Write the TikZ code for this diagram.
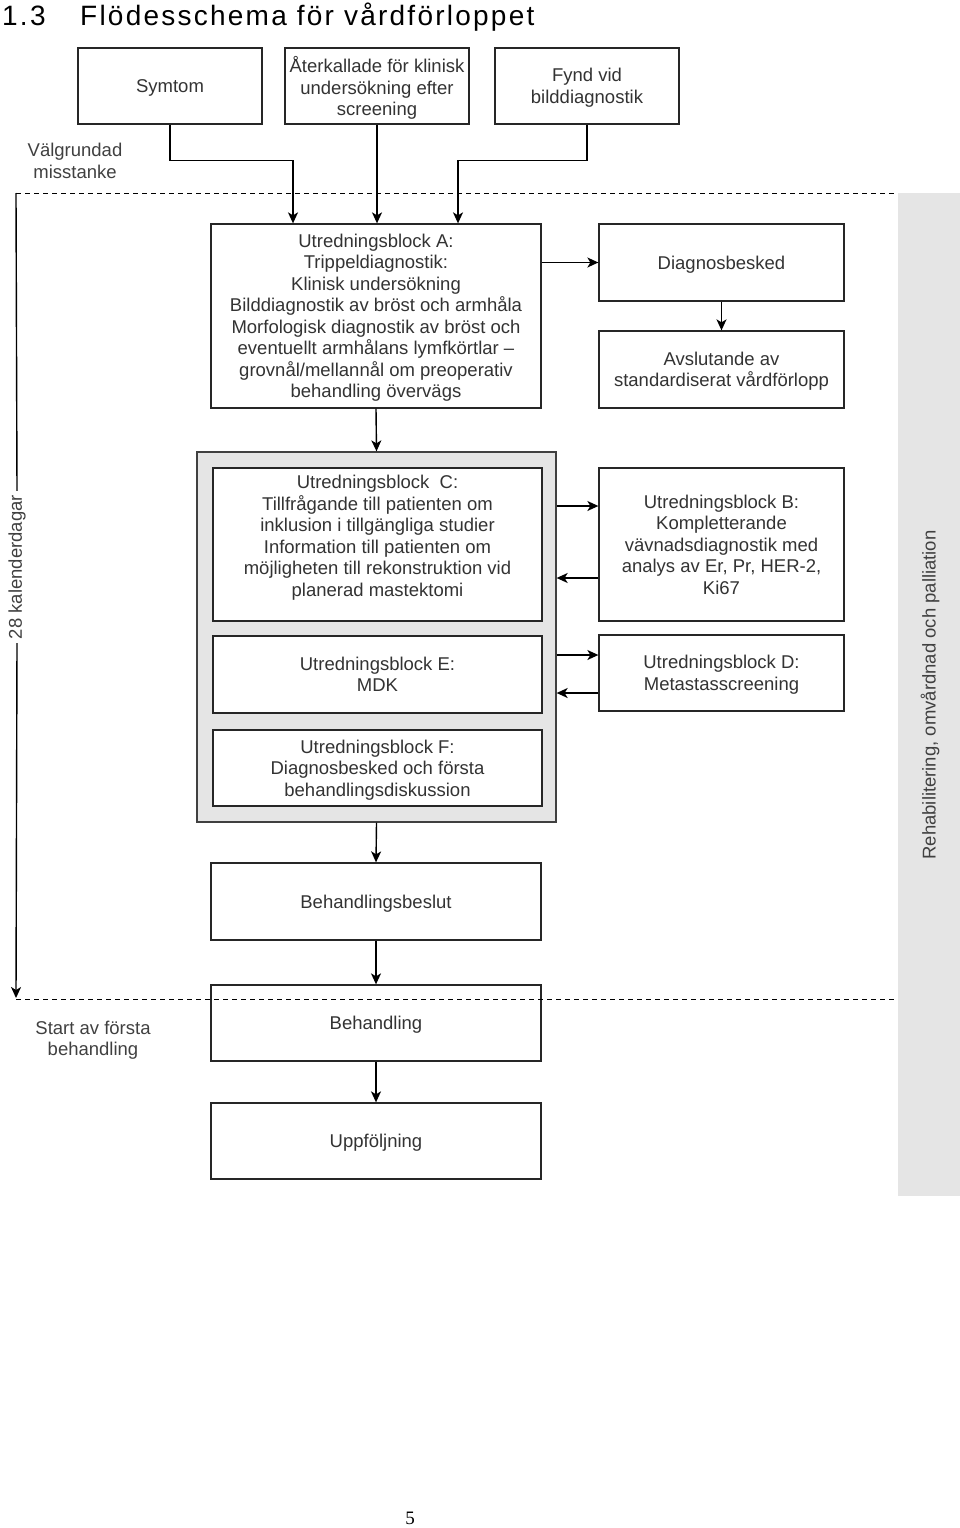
\documentclass[tikz,border=0pt]{standalone}
\usepackage{fontspec}
\setmainfont{Liberation Sans}
\newfontfamily\titelfont[LetterSpace=8]{Liberation Sans}
\newfontfamily\sidfont{Liberation Serif}
\usetikzlibrary{arrows.meta,calc,positioning}

\tikzset{
  ruta/.style={draw=black!85, line width=1.3pt, fill=white, align=center,
    text=black!80, font=\fontsize{18.5}{21.5}\selectfont, inner sep=0pt, text depth=-3pt},
  liten/.style={ruta, minimum width=184pt, minimum height=76pt},
  bred/.style={ruta, minimum width=330pt, minimum height=77pt},
  hoger/.style={ruta, minimum width=245pt, minimum height=77pt},
  inre/.style={ruta, minimum width=329pt, minimum height=77pt},
  etikett/.style={align=center, text=black!75, font=\fontsize{18.5}{21.5}\selectfont},
  pil/.style={-{Stealth[length=11pt,width=10pt,inset=3pt]}, line width=1.4pt},
  streck/.style={line width=1pt, dash pattern=on 5pt off 4pt},
}

\begin{document}
\begin{tikzpicture}[x=1pt,y=-1pt]
  \useasboundingbox (0,0) rectangle (960,1528);
  % rubrik
  \node[anchor=base west, inner sep=0pt, font=\titelfont\fontsize{28}{30}\selectfont] (nummer) at (2,26) {1.3};
  \node[anchor=base west, inner sep=0pt, font=\titelfont\fontsize{28}{30}\selectfont] (rubrik) at (80,26) {Flödesschema för vårdförloppet};

  % grått band till höger
  \fill[black!10] (898,193) rectangle (960,1196);
  \node[etikett, rotate=90] (rehab) at (930,695) {Rehabilitering, omvårdnad och palliation};

  % ingångar
  \node[liten] (symtom) at (170,86) {Symtom};
  \node[liten] (aterk) at (377,86) {Återkallade för klinisk\\undersökning efter\\screening};
  \node[liten] (fynd) at (587,86) {Fynd vid\\bilddiagnostik};
  \node[etikett] (valgr) at (75,161) {Välgrundad\\misstanke};

  % block A
  \node[bred, minimum height=184pt] (A) at (376,316) {Utredningsblock A:\\Trippeldiagnostik:\\Klinisk undersökning\\Bilddiagnostik av bröst och armhåla\\Morfologisk diagnostik av bröst och\\eventuellt armhålans lymfkörtlar --\\grovnål/mellannål om preoperativ\\behandling övervägs};
  \node[hoger] (diag) at (721.5,262.5) {Diagnosbesked};
  \node[hoger] (avsl) at (721.5,369.5) {Avslutande av\\standardiserat vårdförlopp};

  % grupp med block C, E och F
  \node[draw=black!75, fill=black!10, line width=1.3pt, minimum width=359pt, minimum height=370pt, inner sep=0pt] (grupp) at (376.5,637) {};
  \node[inre, minimum height=153pt] (C) at (377.5,544.5) {Utredningsblock\ \ C:\\Tillfrågande till patienten om\\inklusion i tillgängliga studier\\Information till patienten om\\möjligheten till rekonstruktion vid\\planerad mastektomi\\[-4.5pt]};
  \node[inre] (E) at (377.5,674.5) {Utredningsblock E:\\MDK};
  \node[inre, minimum height=76pt] (F) at (377.5,768) {Utredningsblock F:\\Diagnosbesked och första\\behandlingsdiskussion};
  \node[hoger, minimum height=153pt] (B) at (721.5,544.5) {Utredningsblock B:\\Kompletterande\\vävnadsdiagnostik med\\analys av Er, Pr, HER-2,\\Ki67};
  \node[hoger, minimum height=76pt] (D) at (721.5,673) {Utredningsblock D:\\Metastasscreening};

  % behandling
  \node[bred] (beslut) at (376,901.5) {Behandlingsbeslut};
  \node[bred, minimum height=76pt] (behandling) at (376,1023) {Behandling};
  \node[bred, minimum height=76pt] (uppf) at (376,1141) {Uppföljning};
  \node[etikett] (start) at (93,1040) {Start av första\\behandling};

  % pilar
  \draw[pil] (symtom.south) -- ++(0,36) -| ([xshift=-83pt]A.north);
  \draw[pil] (aterk.south) -- (aterk.south |- A.north);
  \draw[pil] (fynd.south) -- ++(0,36) -| ([xshift=82pt]A.north);
  \draw[pil] (A.east |- diag) -- (diag.west);
  \draw[pil] (diag.south) -- (avsl.north);
  \draw[pil] (A.south) -- (grupp.north);
  \coordinate (b1) at ([yshift=38.5pt]B.west);
  \coordinate (b2) at ([yshift=-33.5pt]B.west);
  \coordinate (d1) at ([yshift=18pt]D.west);
  \coordinate (d2) at ([yshift=-20pt]D.west);
  \draw[pil] (grupp.east |- b1) -- (b1);
  \draw[pil] (b2) -- (grupp.east |- b2);
  \draw[pil] (grupp.east |- d1) -- (d1);
  \draw[pil] (d2) -- (grupp.east |- d2);
  \draw[pil] (grupp.south) -- (beslut.north);
  \draw[pil] (beslut.south) -- (behandling.north);
  \draw[pil] (behandling.south) -- (uppf.north);

  % tidslinje och streckade gränser
  \coordinate (dagstart) at (16,193);
  \coordinate (dagslut) at (16,998);
  \coordinate (ovreslut) at (897,193);
  \coordinate (nedreslut) at (897,999);
  \node[etikett, rotate=90, inner sep=4pt] (dagar) at (17,567) {28 kalenderdagar};
  \draw[line width=1.4pt] (dagstart) -- (dagar.east);
  \draw[pil] (dagar.west) -- (dagslut);
  \draw[streck] (dagstart) -- (ovreslut);
  \draw[streck] (16,999) -- (nedreslut);

  % sidnummer
  \node[anchor=base, inner sep=0pt, font=\sidfont\fontsize{19}{20}\selectfont] (sida) at (410,1524) {5};
\end{tikzpicture}
\end{document}
